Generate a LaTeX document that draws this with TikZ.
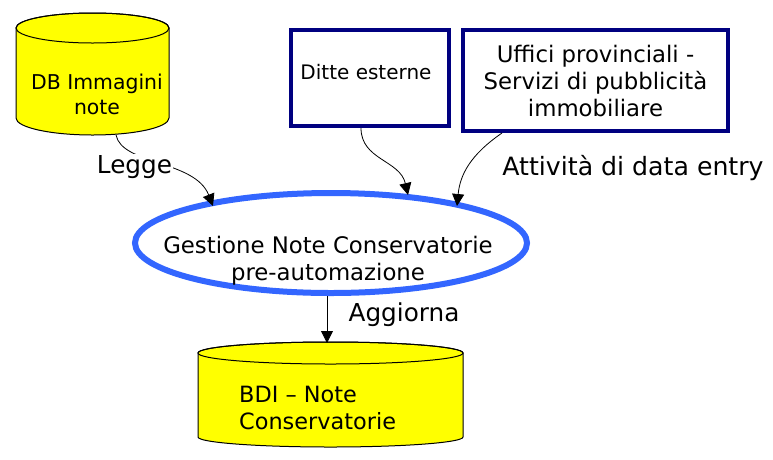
\documentclass[tikz,border=0pt]{standalone}
\usepackage{fontspec}
\setmainfont{DejaVu Sans}
\usetikzlibrary{arrows.meta}
\definecolor{navyb}{RGB}{0,0,128}
\definecolor{procblue}{RGB}{51,102,255}
\definecolor{dbyellow}{RGB}{255,255,0}
\tikzset{
  txt/.style={inner sep=0pt, align=center},
  lbl/.style={inner sep=1pt, fill=white, font=\fontsize{24.7}{28}\selectfont},
  flow/.style={draw=black, line width=0.8pt, -{Triangle[width=12pt,length=12pt]}},
  boxline/.style={draw=navyb, line width=4pt},
  dbfill/.style={fill=dbyellow, draw=black, line width=1pt},
}
\begin{document}
\begin{tikzpicture}[x=1pt,y=1pt]
\useasboundingbox (0,0) rectangle (773,-459);
% top cylinder
\filldraw[dbfill] (16,-28) -- (16,-118) arc[start angle=180,end angle=360,x radius=76.5,y radius=17] -- (169,-28) arc[start angle=0,end angle=180,x radius=76.5,y radius=15] -- cycle;
\draw[line width=1pt] (92.5,-28) ellipse[x radius=76.5,y radius=15];
\node[txt, font=\fontsize{20.4}{25}\selectfont] (db1) at (97,-94) {DB Immagini\\note};
\coordinate (db1b) at (116,-135);
% bottom cylinder
\filldraw[dbfill] (198,-353) -- (198,-437) arc[start angle=180,end angle=360,x radius=132.5,y radius=10] -- (463,-353) arc[start angle=0,end angle=180,x radius=132.5,y radius=11] -- cycle;
\draw[line width=1pt] (330.5,-353) ellipse[x radius=132.5,y radius=11];
\node[txt, align=left, anchor=west, font=\fontsize{22.4}{27}\selectfont] (db2) at (239,-408) {BDI -- Note\\Conservatorie};
\coordinate (db2t) at (327,-343);
% boxes
\draw[boxline, fill=white] (291,-30) rectangle (449,-126);
\node[txt, font=\fontsize{20}{24}\selectfont] (ditte) at (366,-72) {Ditte esterne};
\coordinate (ditteb) at (361,-128);
\draw[boxline, fill=white] (463,-30) rectangle (728,-131);
\node[txt, font=\fontsize{22.8}{27}\selectfont] (uffici) at (595.5,-81) {Uffici provinciali -\\Servizi di pubblicità\\immobiliare};
\coordinate (ufficib) at (502,-133);
% process ellipse
\draw[draw=procblue, line width=6pt, fill=white] (331,-243) ellipse[x radius=196,y radius=50];
\node[txt, font=\fontsize{22.8}{27}\selectfont] (proc) at (328,-261) {Gestione Note Conservatorie\\pre-automazione};
\coordinate (procb) at (327,-296);
% connectors
\draw[flow] (db1b) .. controls (122,-165) and (195,-160) .. (213,-206);
\node[lbl] (legge) at (134.5,-167) {Legge};
\draw[flow] (ditteb) .. controls (361,-160) and (400,-160) .. (408,-195);
\draw[flow] (ufficib) .. controls (470,-155) and (460,-175) .. (457,-206);
\node[lbl, fill=none, font=\fontsize{25.2}{28}\selectfont] (attivita) at (633,-168) {Attività di data entry};
\draw[flow] (procb) -- (db2t);
\node[lbl, fill=none] (aggiorna) at (404,-315) {Aggiorna};
\end{tikzpicture}
\end{document}
